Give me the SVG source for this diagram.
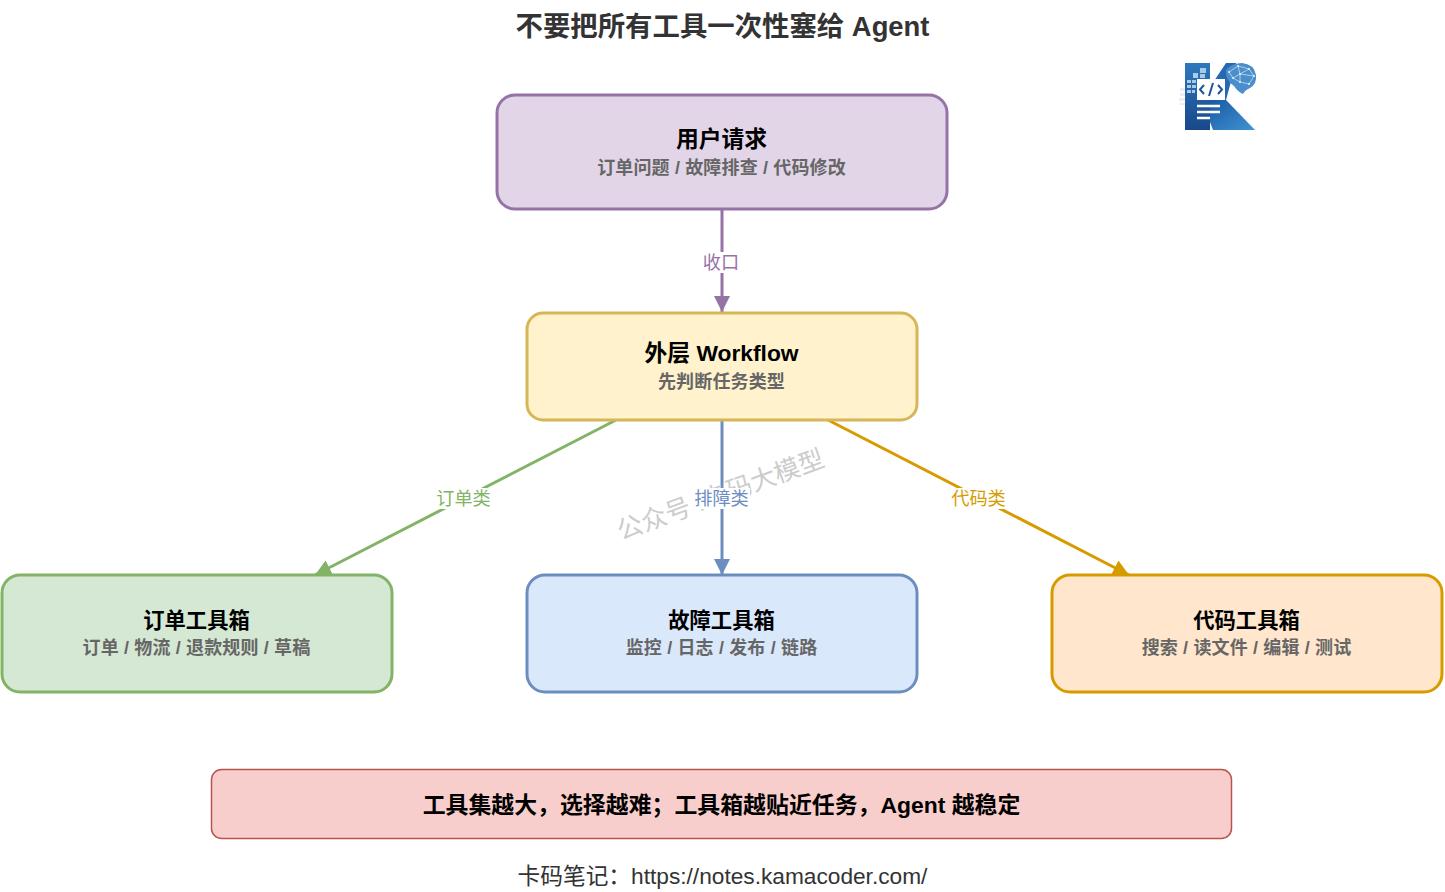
<svg xmlns="http://www.w3.org/2000/svg" width="1445" height="892" viewBox="0 0 1445 892">
<style>
text{font-family:"Liberation Sans","Noto Sans CJK SC",sans-serif;text-anchor:middle}
.n{stroke-width:3}
.t{font-size:21.300px;font-weight:700;fill:#000}
.h{font-size:22.800px;font-weight:700;fill:#000}
.s{font-size:18px;font-weight:700;fill:#666;letter-spacing:.15px}
.l{font-size:18.200px}
.e{fill:none;stroke-width:3}
</style>
<defs>
<marker id="ap" markerUnits="userSpaceOnUse" markerWidth="18" markerHeight="18" refX="16" refY="8" orient="auto"><path d="M0 0L16 8L0 16Z" fill="#9673a6"/></marker>
<marker id="ag" markerUnits="userSpaceOnUse" markerWidth="18" markerHeight="18" refX="16" refY="8" orient="auto"><path d="M0 0L16 8L0 16Z" fill="#82b366"/></marker>
<marker id="ab" markerUnits="userSpaceOnUse" markerWidth="18" markerHeight="18" refX="16" refY="8" orient="auto"><path d="M0 0L16 8L0 16Z" fill="#6c8ebf"/></marker>
<marker id="ao" markerUnits="userSpaceOnUse" markerWidth="18" markerHeight="18" refX="16" refY="8" orient="auto"><path d="M0 0L16 8L0 16Z" fill="#d79b00"/></marker>
<linearGradient id="lg" x1="0" y1="0" x2="0" y2="1"><stop offset="0" stop-color="#2f78bd"/><stop offset="1" stop-color="#17488a"/></linearGradient>
<linearGradient id="lk" x1="0" y1="0" x2="1" y2="1"><stop offset="0" stop-color="#1c5aa3"/><stop offset="1" stop-color="#3f93d3"/></linearGradient>
</defs>
<text x="722.500" y="36" style="font-size:27.400px;font-weight:700;fill:#333">不要把所有工具一次性塞给 Agent</text>

<g id="logo">
<path d="M1185 63H1210V130H1185Z" fill="url(#lg)"/>
<path d="M1210 87L1226 63H1236L1226 100H1210Z" fill="#2569b2"/>
<path d="M1210 100H1226L1255 130H1213L1210 122Z" fill="url(#lk)"/>
<g fill="#e8eef5"><rect x="1180" y="88" width="5" height="3"/><rect x="1180" y="93" width="5" height="3"/><rect x="1179" y="98" width="6" height="3"/><rect x="1180" y="103" width="5" height="2"/></g>
<g fill="#a9cbe6"><rect x="1187" y="80" width="4" height="3"/><rect x="1192" y="80" width="4" height="3"/><rect x="1187" y="85" width="4" height="3"/><rect x="1192" y="85" width="4" height="3"/><rect x="1187" y="90" width="4" height="3"/><rect x="1192" y="90" width="3" height="3"/><rect x="1193" y="73" width="5" height="5"/><rect x="1200" y="68" width="6" height="5"/><rect x="1200" y="74" width="5" height="4"/></g>
<rect x="1197" y="79" width="28" height="21" fill="#fff"/>
<path d="M1204 85L1200 89.500L1204 94M1218 85L1222 89.500L1218 94M1213 83L1209 96" fill="none" stroke="#1d5598" stroke-width="2"/>
<path d="M1197 106H1220M1197 112H1220M1197 118H1210" stroke="#fff" stroke-width="2.500"/>
<path d="M1226 70Q1232 63 1242 63Q1254 64 1256 75Q1257 84 1250 88Q1245 90 1243 94Q1238 92 1234 86Q1225 80 1226 70Z" fill="#4a8fcb"/>
<path d="M1229 72L1238 66L1249 69L1254 76L1249 84L1240 82L1233 78L1229 72M1238 66L1240 74L1249 69M1240 74L1233 78M1240 74L1240 82M1240 74L1254 76" fill="none" stroke="#d5e8f6" stroke-width=".7"/>
<g fill="#e6f2fb"><circle cx="1238" cy="66" r="1"/><circle cx="1249" cy="69" r="1"/><circle cx="1240" cy="74" r="1"/><circle cx="1233" cy="78" r="1"/><circle cx="1249" cy="84" r="1"/><circle cx="1254" cy="76" r="1"/><circle cx="1229" cy="72" r="1"/><circle cx="1240" cy="82" r="1"/></g>
</g>

<g id="connectors">
<path class="e" d="M722 209V312" stroke="#9673a6" marker-end="url(#ap)"/>
<path class="e" d="M616 420L315 575" stroke="#82b366" marker-end="url(#ag)"/>
<path class="e" d="M722 420V575" stroke="#6c8ebf" marker-end="url(#ab)"/>
<path class="e" d="M828 420L1129 575" stroke="#d79b00" marker-end="url(#ao)"/>
</g>

<g id="watermark"><text transform="translate(723.500 503) rotate(-20)" style="font-size:25.500px;fill:#ccc">公众号 :卡码大模型</text></g>

<g id="edge-labels">
<rect x="702" y="252" width="38" height="21" fill="#fff"/><text class="l" x="721" y="268.500" fill="#9673a6">收口</text>
<rect x="435" y="488" width="57" height="21" fill="#fff"/><text class="l" x="463.500" y="504.500" fill="#82b366">订单类</text>
<rect x="693" y="488" width="57" height="21" fill="#fff"/><text class="l" x="721.500" y="504.500" fill="#6c8ebf">排障类</text>
<rect x="950" y="488" width="57" height="21" fill="#fff"/><text class="l" x="978.500" y="504.500" fill="#d79b00">代码类</text>
</g>

<g id="user">
<rect class="n" x="497" y="95" width="450" height="114" rx="18" fill="#e1d5e7" stroke="#9673a6"/>
<text class="h" x="721.500" y="146.500">用户请求</text>
<text class="s" x="721.500" y="173.500">订单问题 / 故障排查 / 代码修改</text>
</g>
<g id="workflow">
<rect class="n" x="527" y="313" width="390" height="107" rx="16" fill="#fff2cc" stroke="#d6b656"/>
<text class="h" x="721.500" y="361">外层 Workflow</text>
<text class="s" x="721.500" y="388">先判断任务类型</text>
</g>
<g id="order">
<rect class="n" x="2" y="575" width="390" height="117" rx="18" fill="#d5e8d4" stroke="#82b366"/>
<text class="t" x="196.500" y="628">订单工具箱</text>
<text class="s" x="196.500" y="653.500">订单 / 物流 / 退款规则 / 草稿</text>
</g>
<g id="fault">
<rect class="n" x="527" y="575" width="390" height="117" rx="18" fill="#dae8fc" stroke="#6c8ebf"/>
<text class="t" x="721.500" y="628">故障工具箱</text>
<text class="s" x="721.500" y="653.500">监控 / 日志 / 发布 / 链路</text>
</g>
<g id="code">
<rect class="n" x="1052" y="575" width="390" height="117" rx="18" fill="#ffe6cc" stroke="#d79b00"/>
<text class="t" x="1246.500" y="628">代码工具箱</text>
<text class="s" x="1246.500" y="653.500">搜索 / 读文件 / 编辑 / 测试</text>
</g>
<g id="summary">
<rect x="211.500" y="769.500" width="1020" height="69" rx="10" fill="#f8cecc" stroke="#b85450" stroke-width="1.500"/>
<text x="721.500" y="812.500" style="font-size:22.900px;font-weight:700;fill:#000">工具集越大，选择越难；工具箱越贴近任务，Agent 越稳定</text>
</g>
<text x="722.500" y="883.500" style="font-size:22.700px;fill:#333">卡码笔记：https://notes.kamacoder.com/</text>
</svg>
